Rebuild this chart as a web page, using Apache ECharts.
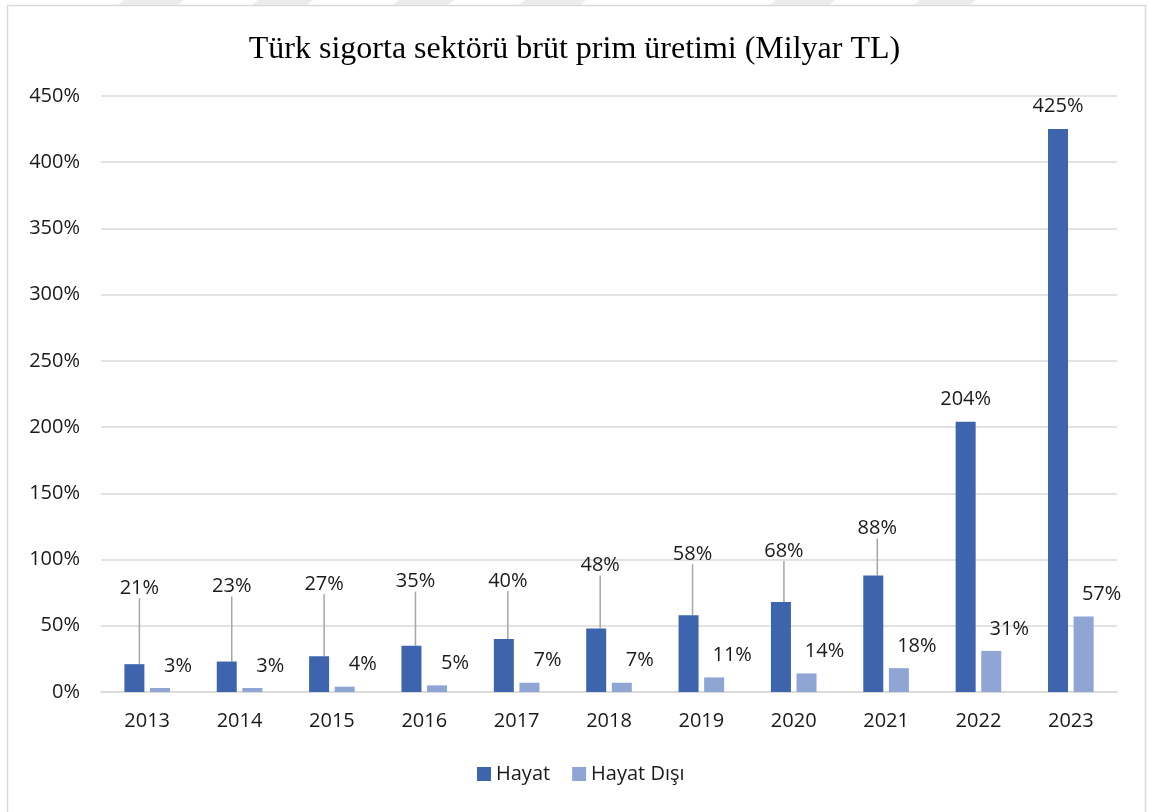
<!DOCTYPE html>
<html>
<head>
<meta charset="utf-8">
<script src="https://cdn.jsdelivr.net/npm/echarts@6/dist/echarts.min.js"></script>
<style>
  html, body { margin: 0; padding: 0; background: #fff; }
  #chart { width: 1149px; height: 812px; }
</style>
</head>
<body>
<div id="chart"></div>
<script>
  // yıllar ve oranlar (%)
  var years = ['2013', '2014', '2015', '2016', '2017', '2018', '2019', '2020', '2021', '2022', '2023'];
  var hayat = [21, 23, 27, 35, 40, 48, 58, 68, 88, 204, 425];
  var hayatDisi = [3, 3, 4, 5, 7, 7, 11, 14, 18, 31, 57];
  var yTicks = [0, 50, 100, 150, 200, 250, 300, 350, 400, 450];

  // etiket kaydırmaları (Excel'de elle taşınmış etiketler)
  var hayatDx = [5, 5, 5, 4, 4, 4, 4, 3, 4, 0, 0];
  var hayatDy = [-53, -52, -49, -41, -35, -40, -38, -28, -24, 0, 0];

  // üstteki soluk filigran şeritleri (x başlangıç/bitiş)
  var stripes = [[118, 178], [252, 307], [393, 448], [519, 580], [770, 829], [914, 970]];

  var axisFont = 'Open Sans';
  var textColor = '#1a1a1a';
  var fs = 20;

  var chart = echarts.init(document.getElementById('chart'));

  var graphics = [
    {
      type: 'rect',
      shape: { x: 7.5, y: 5.5, width: 1138, height: 830 },
      style: { fill: 'none', stroke: '#d9d9d9', lineWidth: 1.5 },
      silent: true
    }
  ];
  stripes.forEach(function (s) {
    graphics.push({
      type: 'polygon',
      shape: { points: [[s[0] + 6, 0], [s[1] + 6, 0], [s[1], 5], [s[0], 5]] },
      style: { fill: '#ececec' },
      silent: true
    });
  });

  var option = {
    animation: false,
    backgroundColor: '#fff',
    title: {
      text: 'Türk sigorta sektörü brüt prim üretimi (Milyar TL)',
      left: 'center',
      top: 29,
      textStyle: {
        fontFamily: 'Liberation Serif',
        fontSize: 32,
        fontWeight: 'normal',
        color: '#000'
      }
    },
    graphic: graphics,
    legend: {
      top: 759,
      left: 472,
      itemWidth: 14,
      itemHeight: 14,
      itemGap: 22,
      icon: 'rect',
      textStyle: { fontFamily: axisFont, fontSize: fs, color: textColor },
      data: ['Hayat', 'Hayat Dışı']
    },
    grid: {
      left: 101,
      right: 32,
      top: 96,
      bottom: 120
    },
    xAxis: {
      type: 'category',
      data: years,
      axisTick: { show: false },
      axisLine: { lineStyle: { color: '#d9d9d9', width: 1.5 } },
      axisLabel: {
        margin: 19,
        fontFamily: axisFont,
        fontSize: fs,
        color: textColor
      }
    },
    yAxis: {
      type: 'value',
      min: yTicks[0],
      max: yTicks[yTicks.length - 1],
      interval: 50,
      axisLine: { show: false },
      axisTick: { show: false },
      splitLine: { lineStyle: { color: '#d9d9d9', width: 1.5 } },
      axisLabel: {
        margin: 21,
        fontFamily: axisFont,
        fontSize: fs,
        color: textColor,
        formatter: '{value}%'
      }
    },
    series: [
      {
        name: 'Hayat',
        type: 'bar',
        barWidth: 20,
        barGap: '28%',
        itemStyle: { color: '#3d64ad' },
        data: hayat.map(function (v, i) {
          return { value: v, labelLine: { show: hayatDy[i] !== 0 } };
        }),
        label: {
          show: true,
          position: 'top',
          distance: 13,
          formatter: '{c}%',
          fontFamily: axisFont,
          fontSize: fs,
          color: textColor
        },
        labelLine: {
          show: true,
          lineStyle: { color: '#a6a6a6', width: 1.5 }
        },
        labelLayout: function (p) {
          return { dx: hayatDx[p.dataIndex], dy: hayatDy[p.dataIndex] };
        }
      },
      {
        name: 'Hayat Dışı',
        type: 'bar',
        barWidth: 20,
        barGap: '28%',
        itemStyle: { color: '#8fa5d4' },
        data: hayatDisi,
        label: {
          show: true,
          position: 'top',
          distance: 12,
          offset: [18, 0],
          formatter: '{c}%',
          fontFamily: axisFont,
          fontSize: fs,
          color: textColor
        }
      }
    ]
  };

  chart.setOption(option);
</script>
</body>
</html>
